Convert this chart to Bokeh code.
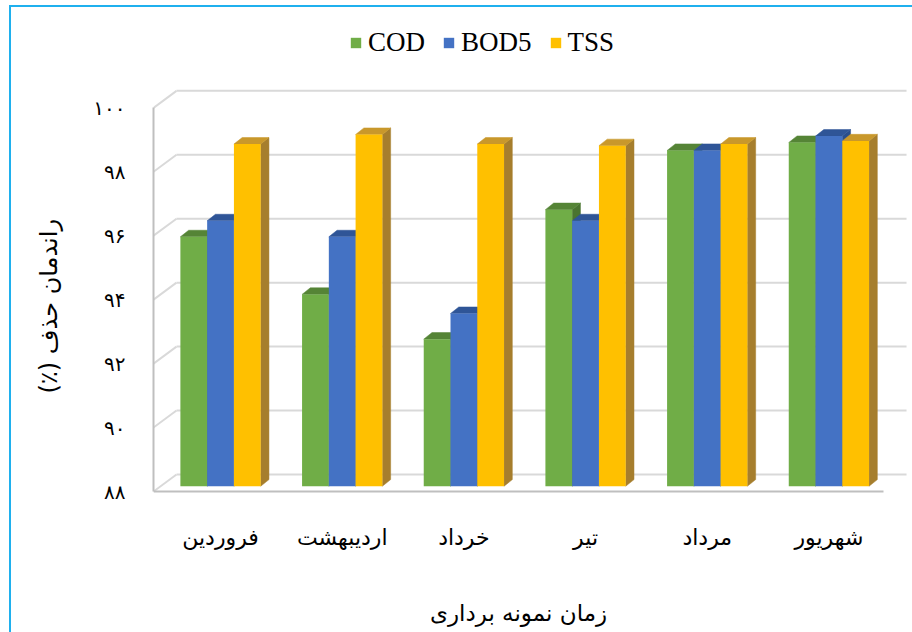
from bokeh.plotting import figure
from bokeh.models import (ColumnDataSource, FixedTicker, Legend, LegendItem,
                          Title, Range1d, Label)
from bokeh.embed import file_html
from bokeh.resources import INLINE

# ---------------- data ----------------
months = ["فروردین", "اردیبهشت", "خرداد", "تیر", "مرداد", "شهریور"]
series_names = ["COD", "BOD5", "TSS"]
cod = [95.8, 94.0, 92.6, 96.65, 98.5, 98.75]
bod5 = [96.3, 95.8, 93.4, 96.3, 98.5, 98.95]
tss = [98.7, 99.0, 98.7, 98.65, 98.7, 98.8]
y_ticks = [88, 90, 92, 94, 96, 98, 100]
y_tick_labels = ["۸۸", "۹۰", "۹۲", "۹۴", "۹۶", "۹۸", "۱۰۰"]
y_title = "راندمان حذف (٪)\u200f"
x_title = "زمان نمونه برداری"

# ---------------- styles ----------------
front_colors = ["#70AD47", "#4472C4", "#FFC000"]
top_colors = ["#558436", "#2F5597", "#C9982B"]
side_colors = ["#4A7430", "#2A4E8C", "#A67E2D"]
grid_color = "#D9D9D9"
axis_color = "#BFBFBF"
persian_font = "DejaVu Sans"

# 3D projection (data units)
WALL_DX, WALL_DY = 0.189, 0.532     # back wall offset
BAR_DX, BAR_DY = 0.051, 0.166       # bar front-face offset
DEPTH_DX, DEPTH_DY = 0.068, 0.206   # bar depth
BAR_W = 0.22
BASE = y_ticks[0]
n_cat = len(months)
PX_PER_UNIT = 31.97

p = figure(width=912, height=632,
           x_range=Range1d(0, 6.238), y_range=Range1d(83.590, 103.358),
           output_backend="svg", toolbar_location=None,
           min_border_left=153, min_border_right=0,
           min_border_top=0, min_border_bottom=0)
p.outline_line_color = None
p.border_fill_color = None
p.background_fill_color = None
p.xgrid.visible = False
p.ygrid.visible = False
p.styles = {"box-shadow": "inset 9px 5px 0 0 #FFFFFF, inset 11px 7px 0 0 #1FB0EE"}

# back wall gridlines and left wall slants
n_t = len(y_ticks)
p.segment(x0=[WALL_DX] * n_t, y0=[t + WALL_DY for t in y_ticks],
          x1=[n_cat + WALL_DX] * n_t, y1=[t + WALL_DY for t in y_ticks],
          line_color=grid_color, line_width=2)
p.segment(x0=[0] * n_t, y0=y_ticks,
          x1=[WALL_DX] * n_t, y1=[t + WALL_DY for t in y_ticks],
          line_color=grid_color, line_width=2)

# bars
values = [cod, bod5, tss]
side_xs, side_ys, side_c = [], [], []
top_xs, top_ys, top_c = [], [], []
fronts = []
for s, vals in enumerate(values):
    fl, fr, fb, ft = [], [], [], []
    for g, v in enumerate(vals):
        xl = g + 0.5 - 1.5 * BAR_W + s * BAR_W + BAR_DX
        xr = xl + BAR_W
        b = BASE + BAR_DY
        t = v + BAR_DY
        fl.append(xl); fr.append(xr); fb.append(b); ft.append(t)
        side_xs.append([xr, xr + DEPTH_DX, xr + DEPTH_DX, xr])
        side_ys.append([b, b + DEPTH_DY, t + DEPTH_DY, t])
        side_c.append(side_colors[s])
        top_xs.append([xl, xr, xr + DEPTH_DX, xl + DEPTH_DX])
        top_ys.append([t, t, t + DEPTH_DY, t + DEPTH_DY])
        top_c.append(top_colors[s])
    fronts.append((fl, fr, fb, ft))

p.patches(xs=side_xs, ys=side_ys, fill_color=side_c, line_color=side_c, line_width=0.5)
p.patches(xs=top_xs, ys=top_ys, fill_color=top_c, line_color=top_c, line_width=0.5)
items = []
for s, (fl, fr, fb, ft) in enumerate(fronts):
    src = ColumnDataSource(dict(left=fl, right=fr, bottom=fb, top=ft))
    r = p.quad(left="left", right="right", bottom="bottom", top="top", source=src,
               fill_color=front_colors[s], line_color=None)
    items.append(LegendItem(label=series_names[s], renderers=[r]))

legend = Legend(items=items, location=(196, 574), orientation="horizontal",
                glyph_width=13, glyph_height=13, label_standoff=6, spacing=17,
                padding=0, margin=0, border_line_color=None,
                background_fill_alpha=0,
                label_text_font="Liberation Serif", label_text_font_size="27px",
                label_text_color="#000000")
p.add_layout(legend)

# axes
ya = p.yaxis[0]
ya.ticker = FixedTicker(ticks=y_ticks)
ya.major_label_overrides = {t: lab for t, lab in zip(y_ticks, y_tick_labels)}
ya.bounds = (y_ticks[0], y_ticks[-1])
ya.axis_line_color = axis_color
ya.axis_line_width = 2
ya.major_tick_line_color = None
ya.minor_tick_line_color = None
ya.major_label_standoff = 22
ya.major_label_text_font = persian_font
ya.major_label_text_font_size = "20px"
ya.major_label_text_color = "#000000"

xa = p.xaxis[0]
x_ticks = [g + 0.5 + BAR_DX for g in range(n_cat)]
xa.ticker = FixedTicker(ticks=x_ticks)
xa.major_label_overrides = {t: m for t, m in zip(x_ticks, months)}
xa.fixed_location = BASE
xa.bounds = (0, n_cat)
xa.axis_line_color = axis_color
xa.axis_line_width = 2
xa.major_tick_line_color = None
xa.minor_tick_line_color = None
xa.major_label_standoff = 27
xa.major_label_text_font = persian_font
xa.major_label_text_font_size = "22px"
xa.major_label_text_color = "#000000"

p.add_layout(Title(text=y_title, align="left", offset=239, standoff=56,
                   text_font=persian_font, text_font_size="24px",
                   text_font_style="normal", text_color="#000000"), "left")
p.add_layout(Label(x=n_cat / 2, y=BASE - 121 / PX_PER_UNIT, text=x_title,
                   text_align="center", text_baseline="middle",
                   text_font=persian_font, text_font_size="23px",
                   text_color="#000000"))

open("out.html", "w").write(file_html(p, INLINE))
